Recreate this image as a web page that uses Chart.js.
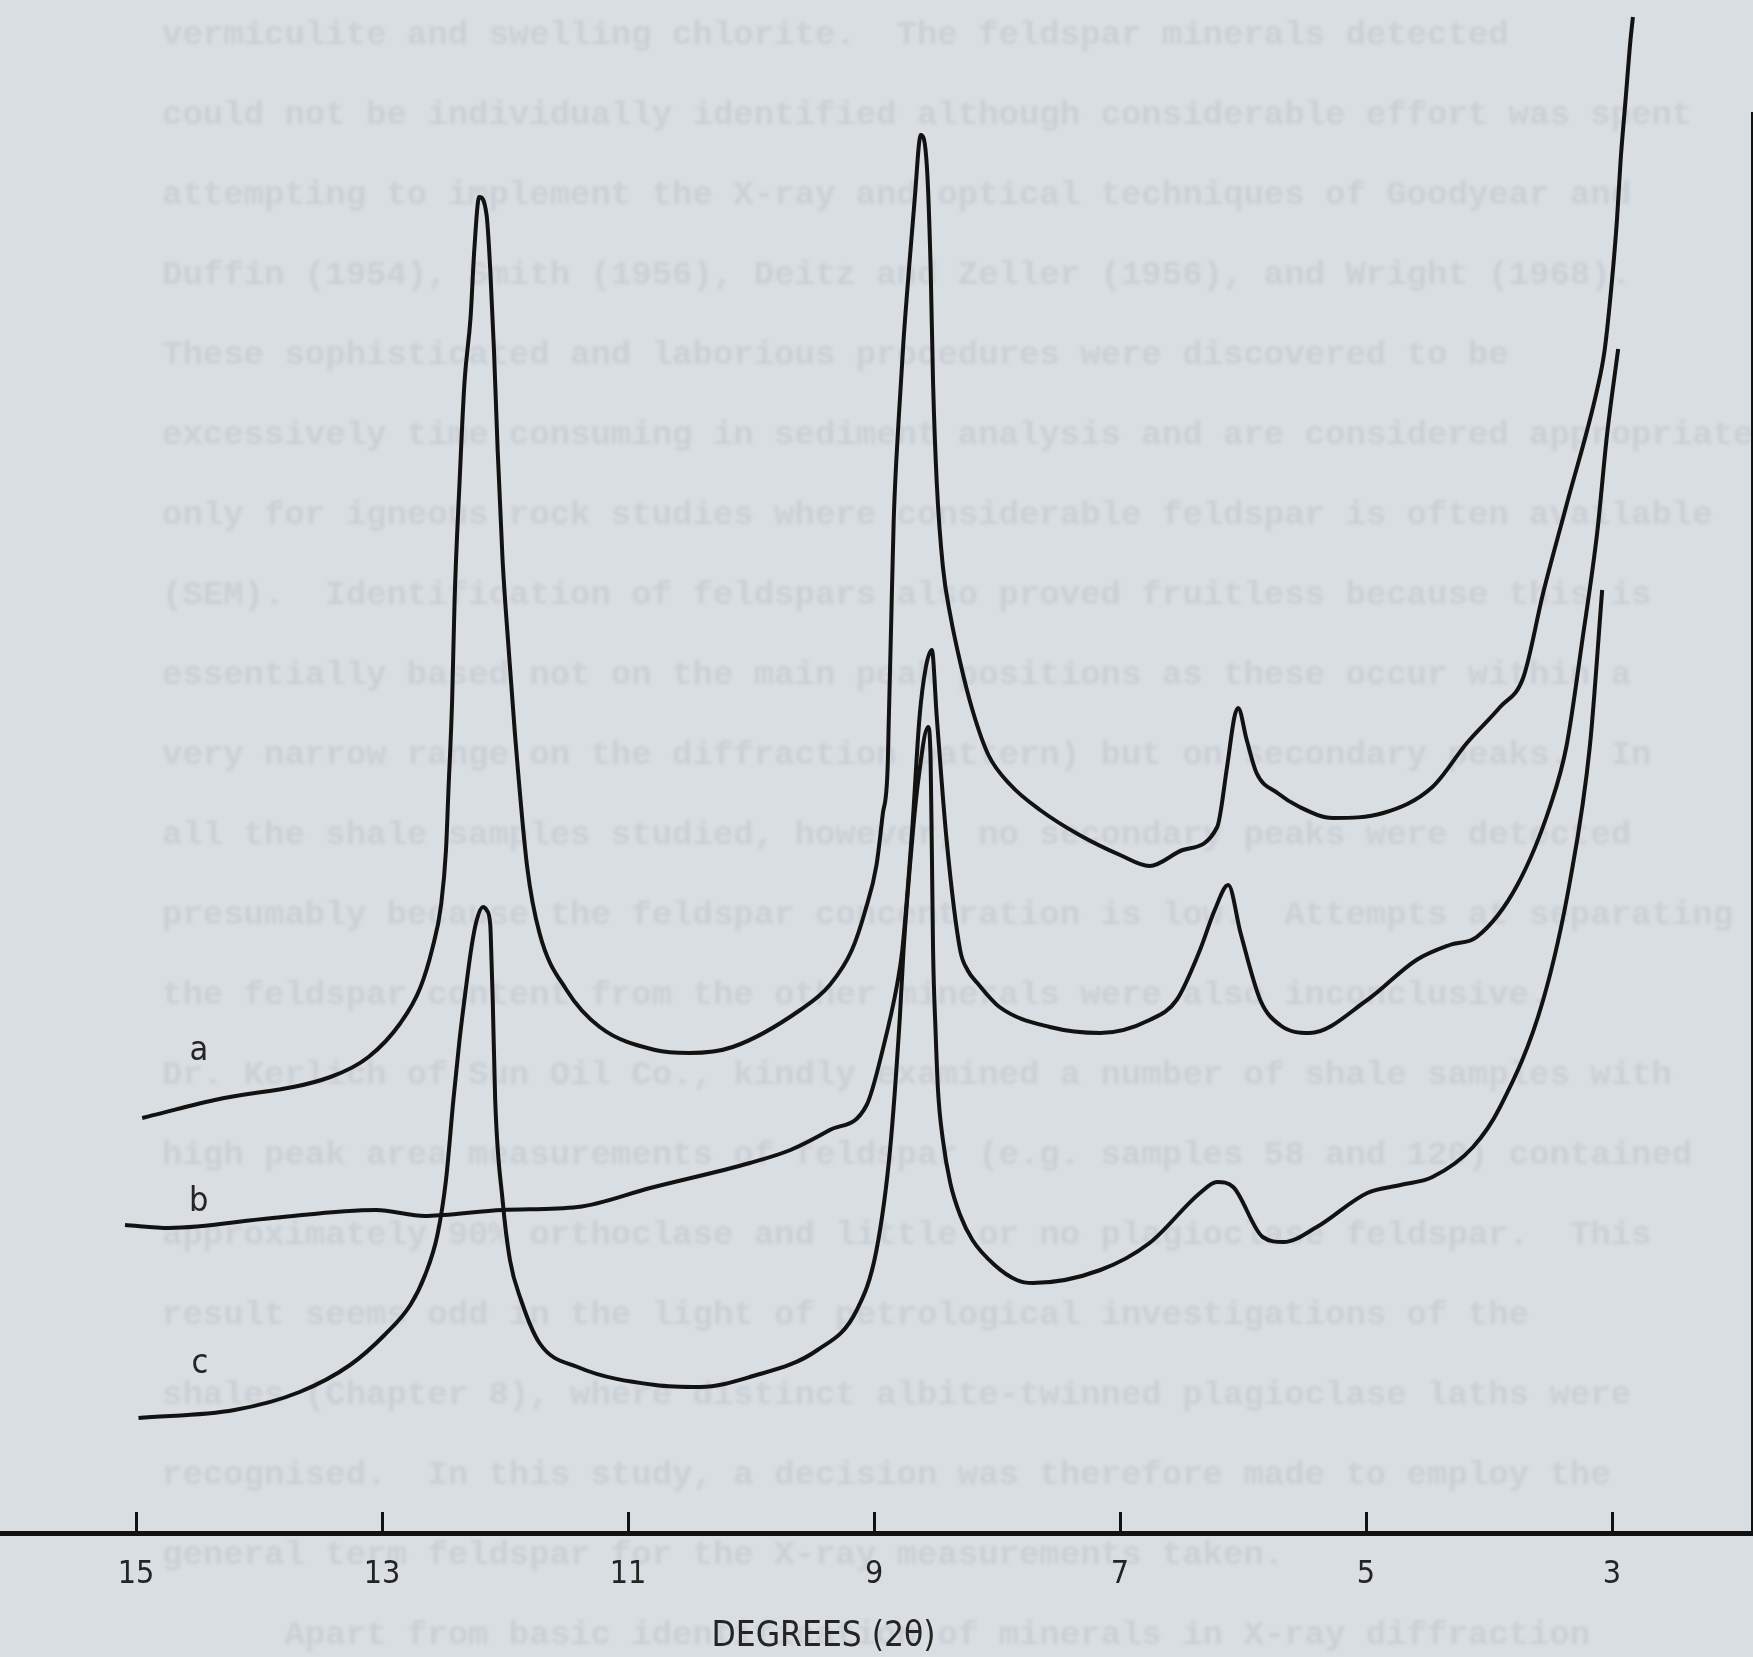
<!DOCTYPE html>
<html>
<head>
<meta charset="utf-8">
<title>DEGREES (2θ)</title>
<script src="https://cdn.jsdelivr.net/npm/chart.js@4.4.1/dist/chart.umd.min.js"></script>
<style>
	html, body { margin: 0; padding: 0; background: #d9dee2; }
	#wrap { width: 1753px; height: 1657px; }
</style>
</head>
<body>
<div id="wrap"><canvas id="xrd" width="1753" height="1657"></canvas></div>
<script>
// trace a : 2θ (deg) and intensity (arbitrary units, 0 = axis line)
let degA = [14.95, 14.36, 13.42, 13.11, 12.85, 12.69, 12.59, 12.52, 12.48, 12.46, 12.43, 12.41, 12.37, 12.33, 12.28, 12.25, 12.21, 12.15, 12.12, 12.09, 12.06, 12.02, 11.97, 11.92, 11.82, 11.72, 11.50, 11.23, 10.78, 10.50, 10.15, 9.60, 9.36, 9.18, 9.07, 8.98, 8.93, 8.89, 8.88, 8.86, 8.84, 8.80, 8.76, 8.71, 8.67, 8.62, 8.57, 8.54, 8.52, 8.49, 8.44, 8.38, 8.30, 8.20, 8.07, 7.89, 7.65, 7.33, 7.00, 6.76, 6.49, 6.21, 6.13, 6.07, 6.04, 5.97, 5.89, 5.72, 5.54, 5.27, 4.86, 4.46, 4.18, 3.91, 3.72, 3.56, 3.37, 3.12, 3.06, 3.00, 2.96, 2.93, 2.89, 2.85, 2.83]
let intA = [41.5, 43.3, 45.6, 47.6, 51.0, 54.5, 58.5, 62.8, 68.3, 74.3, 83.3, 93.3, 105.0, 115.0, 121.6, 128.3, 133.6, 131.8, 126.3, 118.3, 108.3, 97.3, 88.3, 80.0, 66.6, 60.0, 54.3, 50.6, 48.3, 48.0, 48.6, 52.3, 54.8, 58.3, 62.3, 66.8, 71.8, 76.3, 81.3, 91.3, 101.3, 111.3, 119.3, 127.3, 133.3, 139.8, 136.6, 126.6, 115.0, 105.0, 96.6, 91.8, 87.1, 82.3, 77.8, 74.8, 72.3, 69.8, 67.8, 66.7, 68.3, 70.6, 76.6, 81.6, 82.5, 79.3, 76.0, 74.0, 72.6, 71.5, 72.0, 74.6, 79.0, 82.6, 85.6, 94.0, 102.8, 114.4, 118.3, 125.3, 131.3, 137.3, 143.3, 149.3, 151.6]

// trace b
let degB = [15.09, 14.73, 13.89, 13.05, 12.65, 12.50, 12.02, 11.41, 10.82, 10.01, 9.68, 9.36, 9.06, 8.93, 8.81, 8.77, 8.69, 8.63, 8.58, 8.53, 8.49, 8.41, 8.30, 8.24, 8.16, 7.98, 7.57, 7.16, 6.76, 6.54, 6.35, 6.23, 6.12, 6.02, 5.86, 5.70, 5.46, 4.99, 4.59, 4.32, 4.10, 3.77, 3.50, 3.37, 3.24, 3.12, 3.04, 2.95]
let intB = [30.8, 30.5, 31.5, 32.3, 31.7, 31.8, 32.3, 32.6, 34.5, 37.0, 38.3, 40.3, 42.8, 48.3, 55.0, 58.3, 70.3, 81.6, 86.5, 88.3, 81.6, 69.3, 58.3, 56.3, 55.0, 52.6, 50.6, 50.0, 51.3, 53.3, 58.3, 62.3, 64.8, 60.0, 53.3, 50.8, 50.0, 53.3, 57.3, 58.8, 59.6, 64.8, 72.8, 78.7, 89.4, 100.1, 109.9, 118.4]

// trace c
let degC = [14.98, 14.20, 13.67, 13.26, 12.98, 12.77, 12.65, 12.55, 12.48, 12.42, 12.37, 12.32, 12.27, 12.23, 12.18, 12.15, 12.12, 12.11, 12.10, 12.08, 12.02, 11.96, 11.87, 11.72, 11.41, 10.78, 10.41, 10.01, 9.46, 9.14, 8.98, 8.87, 8.79, 8.76, 8.69, 8.64, 8.56, 8.54, 8.53, 8.52, 8.50, 8.48, 8.44, 8.38, 8.30, 8.20, 8.02, 7.84, 7.71, 7.16, 6.76, 6.35, 6.21, 6.08, 5.84, 5.67, 5.40, 4.99, 4.72, 4.46, 4.13, 3.91, 3.56, 3.34, 3.18, 3.08]
let intC = [11.5, 12.3, 14.1, 16.8, 19.8, 22.8, 25.8, 29.8, 35.3, 43.3, 49.3, 54.3, 58.8, 61.3, 62.6, 62.3, 60.8, 57.3, 53.3, 43.3, 33.3, 27.3, 23.3, 19.0, 16.6, 14.8, 14.6, 15.6, 18.3, 22.3, 28.3, 38.3, 51.6, 58.3, 69.3, 75.3, 80.6, 77.3, 68.3, 58.3, 50.3, 44.3, 39.3, 35.0, 31.8, 29.3, 26.8, 25.3, 25.0, 26.3, 29.0, 34.0, 35.1, 34.6, 29.6, 29.1, 30.6, 34.0, 34.8, 35.6, 38.6, 42.6, 53.3, 65.3, 78.7, 94.3]

let tickDeg = [15, 13, 11, 9, 7, 5, 3]
let curveNames = ['a', 'b', 'c']
let nameDeg = [14.49, 14.49, 14.48]
let nameInt = [48.2, 33.1, 16.9]
let axisTitle = 'DEGREES (2θ)'
let titleDeg = 9.41

// typescript of the thesis page showing faintly through the sheet
let pageText = [
	'vermiculite and swelling chlorite.  The feldspar minerals detected',
	'could not be individually identified although considerable effort was spent',
	'attempting to implement the X-ray and optical techniques of Goodyear and',
	'Duffin (1954), Smith (1956), Deitz and Zeller (1956), and Wright (1968).',
	'These sophisticated and laborious procedures were discovered to be',
	'excessively time consuming in sediment analysis and are considered appropriate',
	'only for igneous rock studies where considerable feldspar is often available',
	'(SEM).  Identification of feldspars also proved fruitless because this is',
	'essentially based not on the main peak positions as these occur within a',
	'very narrow range on the diffraction pattern) but on secondary peaks.  In',
	'all the shale samples studied, however, no secondary peaks were detected',
	'presumably because the feldspar concentration is low.  Attempts at separating',
	'the feldspar content from the other minerals were also inconclusive.',
	'Dr. Kerlich of Sun Oil Co., kindly examined a number of shale samples with',
	'high peak area measurements of feldspar (e.g. samples 58 and 120) contained',
	'approximately 90% orthoclase and little or no plagioclase feldspar.  This',
	'result seems odd in the light of petrological investigations of the',
	'shales (Chapter 8), where distinct albite-twinned plagioclase laths were',
	'recognised.  In this study, a decision was therefore made to employ the',
	'general term feldspar for the X-ray measurements taken.',
	'      Apart from basic identification of minerals in X-ray diffraction'
]
let pageTop = 35
let pageStep = 80

let ink = '#121212'
let textInk = '#242424'
let face = '"DejaVu Sans Condensed", "DejaVu Sans", sans-serif'
Chart.defaults.font.family = face

let pts = (d, v) => d.map((x, i) => ({ x: x, y: v[i] }))

let trace = (d, v) => ({
	data: pts(d, v),
	borderColor: ink,
	borderWidth: 4,
	pointRadius: 0,
	cubicInterpolationMode: 'monotone',
	fill: false,
	clip: false
})

let ghost = {
	id: 'ghost',
	beforeDraw: c => {
		let ctx = c.ctx
		ctx.save()
		ctx.filter = 'blur(1.6px)'
		ctx.fillStyle = 'rgba(62, 74, 90, 0.085)'
		ctx.font = 'bold 34px "Liberation Mono", "DejaVu Sans Mono", monospace'
		ctx.textAlign = 'left'
		ctx.textBaseline = 'middle'
		pageText.forEach((t, i) => ctx.fillText(t, 162, pageTop + i * pageStep))
		ctx.restore()
	}
}

// tick marks stand up from the axis, curve letters by the left ends, title under the axis
let marks = {
	id: 'marks',
	afterDraw: c => {
		let ctx = c.ctx
		let sx = c.scales.x
		let sy = c.scales.y
		ctx.save()
		ctx.strokeStyle = ink
		ctx.lineWidth = 3
		tickDeg.forEach(t => {
			let px = Math.round(sx.getPixelForValue(t)) + 0.5
			ctx.beginPath()
			ctx.moveTo(px, sx.top)
			ctx.lineTo(px, sx.top - 21)
			ctx.stroke()
		})
		ctx.fillStyle = textInk
		ctx.textAlign = 'center'
		ctx.textBaseline = 'middle'
		ctx.font = '34px ' + face
		curveNames.forEach((n, i) => {
			ctx.fillText(n, sx.getPixelForValue(nameDeg[i]), sy.getPixelForValue(nameInt[i]))
		})
		ctx.font = '35px ' + face
		ctx.fillText(axisTitle, sx.getPixelForValue(titleDeg), sx.top + 104)
		ctx.restore()
	}
}

new Chart(document.getElementById('xrd'), {
	type: 'line',
	data: {
		datasets: [trace(degA, intA), trace(degB, intB), trace(degC, intC)]
	},
	options: {
		responsive: false,
		animation: false,
		devicePixelRatio: 1,
		layout: { padding: { top: 113, left: 0, right: 0, bottom: 0 } },
		plugins: {
			legend: { display: false },
			tooltip: { enabled: false }
		},
		scales: {
			x: {
				type: 'linear',
				reverse: true,
				min: 1.862,
				max: 16.106,
				grid: { display: false, drawTicks: false },
				border: { display: true, color: ink, width: 5 },
				afterBuildTicks: s => { s.ticks = tickDeg.map(v => ({ value: v })) },
				ticks: {
					color: textInk,
					padding: 22,
					maxRotation: 0,
					font: { size: 32 },
					callback: v => String(v)
				},
				title: { display: false },
				afterFit: s => { s.height = 124 }
			},
			y: {
				position: 'right',
				min: 0,
				max: 142,
				grid: { display: false, drawTicks: false },
				ticks: { display: false },
				border: { display: true, color: ink, width: 3 },
				afterFit: s => { s.width = 1 }
			}
		}
	},
	plugins: [ghost, marks]
})
</script>
</body>
</html>
